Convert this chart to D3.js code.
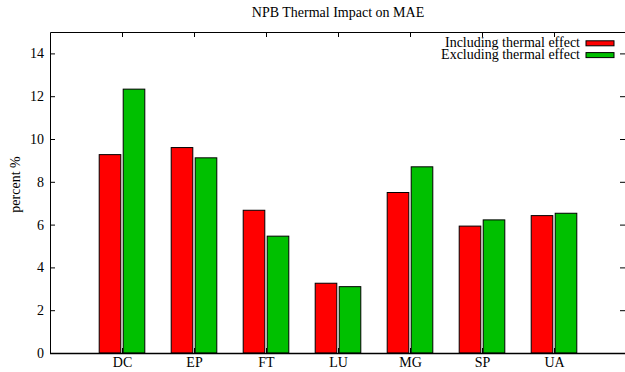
<!DOCTYPE html>
<html>
<head>
<meta charset="utf-8">
<script src="https://cdn.jsdelivr.net/npm/d3@7"></script>
<style>
  html, body { margin: 0; padding: 0; background: #fff; }
  svg { display: block; font-family: "Liberation Serif", "Times New Roman", serif; }
</style>
</head>
<body>
<svg id="chart" width="625" height="372"></svg>
<script>
// Benchmarks and the MAE percentage for each variant
const categories = ["DC", "EP", "FT", "LU", "MG", "SP", "UA"];
const seriesNames = ["Including thermal effect", "Excluding thermal effect"];
const including = [9.27, 9.60, 6.67, 3.26, 7.50, 5.93, 6.42];
const excluding = [12.33, 9.12, 5.46, 3.10, 8.70, 6.22, 6.53];
const yTicks = [0, 2, 4, 6, 8, 10, 12, 14];
const colors = ["#ff0000", "#00c000"];

const FONT = "'Liberation Serif', 'Times New Roman', serif";
const FS = 14;

const svg = d3.select("#chart");
const W = 625, H = 372;
const plotLeft = 50, plotRight = 626, plotTop = 32, plotBottom = 353;

// Category index scale: one slot of padding on the left, slots -1..7
const x = d3.scaleLinear().domain([-1, 7]).range([plotLeft, plotRight]);
const y = d3.scaleLinear().domain([0, 15]).range([plotBottom, plotTop]);

const barW = 0.3;       // in category units
const offsets = [-1 / 6, 1 / 6];
const series = [including, excluding];

// Bars
series.forEach((vals, s) => {
  svg.append("g").selectAll("rect")
    .data(vals)
    .join("rect")
    .attr("x", (d, i) => x(i + offsets[s] - barW / 2))
    .attr("width", x(barW) - x(0))
    .attr("y", d => y(d))
    .attr("height", d => y(0) - y(d))
    .attr("fill", colors[s])
    .attr("stroke", "#000")
    .attr("stroke-width", 1);
});

// Left axis with ticks pointing inward
const yAxis = d3.axisLeft(y).tickValues(yTicks).tickSize(-5).tickPadding(6).tickFormat(d3.format("d"));
const gy = svg.append("g").attr("transform", `translate(${plotLeft},0)`).call(yAxis);
gy.attr("font-family", FONT).attr("font-size", FS);
gy.select(".domain").remove();
gy.selectAll("text").attr("fill", "#000");
gy.selectAll("line").attr("stroke", "#000");

// Mirrored ticks on the right edge
const gyR = svg.append("g").attr("transform", `translate(${plotRight - 1},0)`)
  .call(d3.axisRight(y).tickValues(yTicks).tickSize(-5).tickFormat(""));
gyR.select(".domain").remove();
gyR.selectAll("line").attr("stroke", "#000");

// Bottom axis labels and ticks
const xAxis = d3.axisBottom(x).tickValues(d3.range(categories.length))
  .tickSize(-5).tickPadding(4).tickFormat(i => categories[i]);
const gx = svg.append("g").attr("transform", `translate(0,${plotBottom})`).call(xAxis);
gx.attr("font-family", FONT).attr("font-size", FS);
gx.select(".domain").remove();
gx.selectAll("text").attr("fill", "#000");
gx.selectAll("line").attr("stroke", "#000");

// Top ticks
const gxT = svg.append("g").attr("transform", `translate(0,${plotTop})`)
  .call(d3.axisTop(x).tickValues(d3.range(categories.length)).tickSize(-5).tickFormat(""));
gxT.select(".domain").remove();
gxT.selectAll("line").attr("stroke", "#000");

// Frame: left, top and bottom borders
svg.append("path")
  .attr("d", `M${plotLeft + 0.5},${plotBottom}V${plotTop + 0.5}H${W}`)
  .attr("fill", "none").attr("stroke", "#000").attr("stroke-width", 1);
svg.append("line")
  .attr("x1", plotLeft).attr("x2", W).attr("y1", plotBottom + 0.5).attr("y2", plotBottom + 0.5)
  .attr("stroke", "#000").attr("stroke-width", 1.4);

// Title
svg.append("text")
  .attr("x", (plotLeft + plotRight) / 2).attr("y", 17)
  .attr("text-anchor", "middle").attr("font-size", FS).attr("font-family", FONT)
  .text("NPB Thermal Impact on MAE");

// Y axis label
svg.append("text")
  .attr("transform", `translate(20,${(plotTop + plotBottom) / 2 - 8}) rotate(-90)`)
  .attr("text-anchor", "middle").attr("font-size", FS).attr("font-family", FONT)
  .text("percent %");

// Legend
const legend = svg.append("g").attr("font-family", FONT).attr("font-size", FS);
seriesNames.forEach((name, s) => {
  const cy = 43.3 + s * 11.8;
  legend.append("text")
    .attr("x", 580).attr("y", cy + 3.8)
    .attr("text-anchor", "end")
    .text(name);
  legend.append("rect")
    .attr("x", 586).attr("y", cy - 2.5)
    .attr("width", 28).attr("height", 5)
    .attr("fill", colors[s]).attr("stroke", "#000").attr("stroke-width", 1);
});
</script>
</body>
</html>
